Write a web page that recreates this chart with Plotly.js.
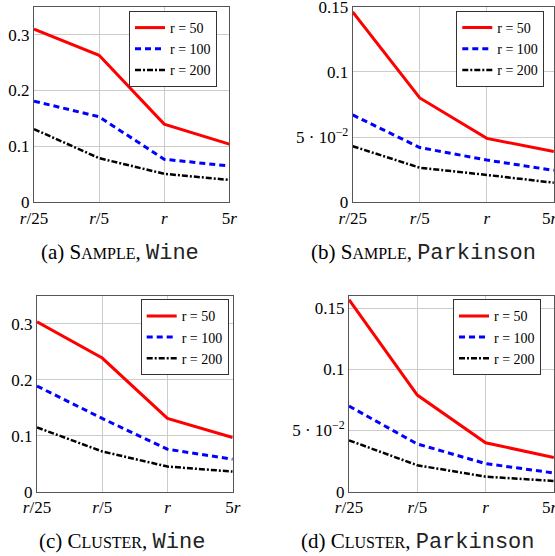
<!DOCTYPE html>
<html>
<head>
<meta charset="utf-8">
<script src="https://cdn.plot.ly/plotly-3.0.1.min.js"></script>
<style>html,body{margin:0;padding:0;background:#fff;}#chart{width:555px;height:556px;}</style>
</head>
<body>
<div id="chart"></div>
<script>
// x categories
const xPositions = [0, 1, 2, 3];
const xTickLabels = ['<i>r</i>/25', '<i>r</i>/5', '<i>r</i>', '5<i>r</i>'];
const xTickLabelsEdge = ['<i>r</i>/25', '<i>r</i>/5', '<i>r</i>', '5<i>r</i>\u00a0\u00a0'];
const seriesNames = ['r = 50', 'r = 100', 'r = 200'];

// (a) SAMPLE, Wine
const sampleWine50 = [0.310, 0.263, 0.140, 0.104];
const sampleWine100 = [0.181, 0.153, 0.077, 0.065];
const sampleWine200 = [0.131, 0.079, 0.051, 0.040];
// (b) SAMPLE, Parkinson
const samplePark50 = [0.146, 0.080, 0.049, 0.039];
const samplePark100 = [0.067, 0.042, 0.0324, 0.0245];
const samplePark200 = [0.043, 0.0265, 0.021, 0.015];
// (c) CLUSTER, Wine
const clusterWine50 = [0.304, 0.239, 0.131, 0.097];
const clusterWine100 = [0.189, 0.131, 0.076, 0.058];
const clusterWine200 = [0.115, 0.072, 0.045, 0.036];
// (d) CLUSTER, Parkinson
const clusterPark50 = [0.157, 0.079, 0.040, 0.028];
const clusterPark100 = [0.070, 0.039, 0.023, 0.0153];
const clusterPark200 = [0.042, 0.0216, 0.0123, 0.0088];

const wineTickVals = [0, 0.1, 0.2, 0.3];
const wineTickText = ['0', '0.1', '0.2', '0.3'];
const parkTickVals = [0, 0.05, 0.1, 0.15];
const parkTickText = ['0', '5 · 10<sup>−2</sup>', '0.1', '0.15'];

const MONO = 'font-family:Liberation Mono;font-size:22px;color:#222';
const SC = 'font-size:16px';
const captions = [
  '(a) S<span style="' + SC + '">AMPLE</span>, <span style="' + MONO + '">Wine</span>',
  '(b) S<span style="' + SC + '">AMPLE</span>, <span style="' + MONO + '">Parkinson</span>',
  '(c) C<span style="' + SC + '">LUSTER</span>, <span style="' + MONO + '">Wine</span>',
  '(d) C<span style="' + SC + '">LUSTER</span>, <span style="' + MONO + '">Parkinson</span>'
];

const styles = [
  {color: '#ff0000', width: 3, dash: 'solid'},
  {color: '#0000ff', width: 3, dash: '6px,4px'},
  {color: '#000000', width: 2.5, dash: '6px,2px,2px,2px'}
];

const panels = [
  {data: [sampleWine50, sampleWine100, sampleWine200], yr: [0, 0.35], tv: wineTickVals, tt: wineTickText, xt: xTickLabels,
   dx: [34/555, 229.3/555], dy: [1-202.3/556, 1-6.7/556], lx: 217/555, ly: 1-11/556, cx: 120/555, cy: 1-253/556},
  {data: [samplePark50, samplePark100, samplePark200], yr: [0, 0.15], tv: parkTickVals, tt: parkTickText, xt: xTickLabelsEdge,
   dx: [352.7/555, 0.998], dy: [1-202.3/556, 1-6.7/556], lx: 544.3/555, ly: 1-11/556, cx: 423/555, cy: 1-253/556},
  {data: [clusterWine50, clusterWine100, clusterWine200], yr: [0, 0.35], tv: wineTickVals, tt: wineTickText, xt: xTickLabels,
   dx: [37/555, 232.7/555], dy: [1-491.7/556, 1-296/556], lx: 228.7/555, ly: 1-299.3/556, cx: 122/555, cy: 1-542/556},
  {data: [clusterPark50, clusterPark100, clusterPark200], yr: [0, 0.16], tv: parkTickVals, tt: parkTickText, xt: xTickLabelsEdge,
   dx: [349/555, 0.998], dy: [1-491.7/556, 1-296/556], lx: 541/555, ly: 1-299.3/556, cx: 418/555, cy: 1-542/556}
];

const FONT = '"Liberation Serif", "Times New Roman", serif';
const traces = [];
const layout = {
  width: 555, height: 556,
  margin: {l: 0, r: 0, t: 0, b: 0},
  paper_bgcolor: '#ffffff', plot_bgcolor: '#ffffff',
  font: {family: FONT, size: 14, color: '#000'},
  showlegend: true,
  annotations: []
};

panels.forEach((p, i) => {
  const n = i === 0 ? '' : String(i + 1);
  const xa = 'x' + n, ya = 'y' + n;
  const lg = 'legend' + n;
  p.data.forEach((vals, k) => {
    traces.push({
      x: xPositions, y: vals, xaxis: xa, yaxis: ya, legend: lg,
      type: 'scatter', mode: 'lines', name: seriesNames[k],
      line: styles[k], hoverinfo: 'skip'
    });
  });
  layout['xaxis' + n] = {
    domain: p.dx, anchor: ya, range: [0, 3],
    tickvals: xPositions, ticktext: p.xt,
    showgrid: true, gridcolor: '#cccccc', gridwidth: 1,
    showline: true, linecolor: '#555555', linewidth: 1, mirror: true,
    zeroline: false, ticks: '', ticklen: 0, ticklabeloverflow: 'allow',
    tickfont: {family: FONT, size: 17, color: '#000'}, fixedrange: true
  };
  layout['yaxis' + n] = {
    domain: p.dy, anchor: xa, range: p.yr,
    tickvals: p.tv, ticktext: p.tt,
    showgrid: true, gridcolor: '#cccccc', gridwidth: 1,
    showline: true, linecolor: '#555555', linewidth: 1, mirror: true,
    zeroline: false, ticks: '', ticklen: 0, ticklabeloverflow: 'allow',
    tickfont: {family: FONT, size: 17, color: '#000'}, fixedrange: true
  };
  layout[lg] = {
    x: p.lx, y: p.ly, xanchor: 'right', yanchor: 'top', xref: 'paper', yref: 'paper',
    bgcolor: '#ffffff', bordercolor: '#333333', borderwidth: 1,
    font: {family: FONT, size: 14, color: '#000'},
    itemwidth: 30, tracegroupgap: 0
  };
  layout.annotations.push({
    text: captions[i], x: p.cx, y: p.cy, xref: 'paper', yref: 'paper',
    xanchor: 'center', yanchor: 'middle', showarrow: false,
    font: {family: FONT, size: 21, color: '#000'}
  });
});

Plotly.newPlot('chart', traces, layout, {staticPlot: true, displayModeBar: false});
</script>
</body>
</html>
